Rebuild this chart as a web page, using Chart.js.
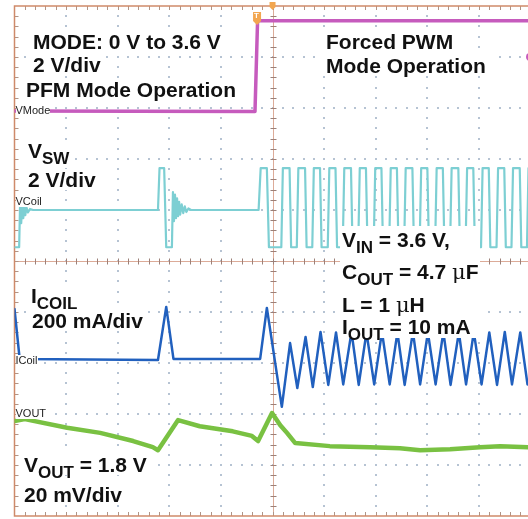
<!DOCTYPE html>
<html><head><meta charset="utf-8">
<script src="https://cdn.jsdelivr.net/npm/chart.js@4.4.0/dist/chart.umd.min.js"></script>
<style>
html,body{margin:0;padding:0;background:#fff;overflow:hidden}
#wrap{position:relative;width:528px;height:519px;overflow:hidden}
canvas{position:absolute;left:0;top:0}
.t{position:absolute;font:bold 21px 'Liberation Sans',Arial,sans-serif;line-height:21px;color:#111;white-space:nowrap;background:#fff;padding:0 5px}
.s{font-size:17px;vertical-align:-6px;line-height:0}
.mu{font-family:'DejaVu Serif','Liberation Serif',serif;font-weight:normal}
.b{position:absolute;font:bold 21px 'Liberation Sans',Arial,sans-serif;line-height:21px;color:#111;white-space:nowrap}
.c{position:absolute;font:11px 'Liberation Sans Narrow','Liberation Sans',Arial,sans-serif;font-stretch:condensed;line-height:11px;color:#222;background:#fff;white-space:nowrap}
#box{position:absolute;left:340px;top:226px;width:140px;height:112px;background:#fff}
#trig{position:absolute;left:254px;top:11px;font:bold 8px 'Liberation Sans',Arial,sans-serif;color:#fff;line-height:10px}
</style></head><body>
<div id="wrap">
<canvas id="c" width="528" height="519"></canvas>
<div class="t" style="left:28px;top:31px">MODE: 0 V to 3.6 V</div>
<div class="t" style="left:28px;top:54px">2 V/div</div>
<div class="t" style="left:21px;top:79px">PFM Mode Operation</div>
<div class="t" style="left:321px;top:31px">Forced PWM</div>
<div class="t" style="left:321px;top:55px">Mode Operation</div>
<div class="t" style="left:23px;top:140px">V<span class="s">SW</span></div>
<div class="t" style="left:23px;top:169px">2 V/div</div>
<div class="t" style="left:26px;top:285px">I<span class="s">COIL</span></div>
<div class="t" style="left:27px;top:310px">200 mA/div</div>
<div id="box"></div>
<div class="b" style="left:342px;top:229px">V<span class="s">IN</span> = 3.6 V,</div>
<div class="b" style="left:342px;top:261px">C<span class="s">OUT</span> = 4.7 <span class="mu">μ</span>F</div>
<div class="b" style="left:342px;top:294px">L = 1 <span class="mu">μ</span>H</div>
<div class="b" style="left:342px;top:316px">I<span class="s">OUT</span> = 10 mA</div>
<div class="t" style="left:19px;top:454px">V<span class="s">OUT</span> = 1.8 V</div>
<div class="t" style="left:19px;top:484px">20 mV/div</div>
<div class="c" style="left:15.5px;top:104.6px">VMode</div>
<div class="c" style="left:15.5px;top:195.6px">VCoil</div>
<div class="c" style="left:15.5px;top:354.6px">ICoil</div>
<div class="c" style="left:15.5px;top:407.6px">VOUT</div>
<div id="trig">T</div>
</div>
<script>
// Channel names
const channelNames = ['VMode', 'VCoil', 'ICoil', 'VOUT'];

// Time axis in screen divisions, values in screen divisions (0 = bottom, 10 = top)
const vmodeT = [0, 4.66, 4.71, 9.95];
const vmodeV = [7.94, 7.93, 9.71, 9.71];

const vswT = [0, 0.09, 0.11, 0.13, 0.15, 0.17, 0.19, 0.21, 0.23, 0.26, 0.30, 0.36,
  2.78, 2.81, 2.90, 2.94, 3.05, 3.07, 3.09, 3.11, 3.13, 3.15, 3.17, 3.19, 3.21, 3.24, 3.27, 3.30, 3.33, 3.37, 3.42,
  4.73, 4.77, 4.89, 4.93,
  5.17, 5.20, 5.33, 5.36, 5.47, 5.50, 5.63, 5.66, 5.77, 5.80, 5.92, 5.95,
  6.07, 6.10, 6.22, 6.25, 6.36, 6.39, 6.52, 6.55, 6.66, 6.69, 6.81, 6.84,
  6.96, 6.99, 7.11, 7.14, 7.26, 7.29, 7.41, 7.44, 7.55, 7.58, 7.71, 7.74,
  7.85, 7.88, 8.00, 8.03, 8.15, 8.18, 8.30, 8.33, 8.44, 8.47, 8.60, 8.63,
  8.74, 8.77, 8.89, 8.92, 9.04, 9.07, 9.19, 9.22, 9.34, 9.37, 9.49, 9.52,
  9.63, 9.66, 9.79, 9.82, 9.93, 9.96];
const vswV = [5.27, 5.27, 6.22, 5.74, 6.16, 5.84, 6.10, 5.90, 6.06, 5.95, 6.02, 6.00,
  6.00, 6.82, 6.82, 5.27, 5.27, 6.35, 5.78, 6.30, 5.84, 6.23, 5.88, 6.16, 5.91, 6.11, 5.94, 6.07, 5.96, 6.03, 6.00,
  6.00, 6.82, 6.82, 5.27,
  5.27, 6.82, 6.82, 5.27, 5.27, 6.82, 6.82, 5.27, 5.27, 6.82, 6.82, 5.27,
  5.27, 6.82, 6.82, 5.27, 5.27, 6.82, 6.82, 5.27, 5.27, 6.82, 6.82, 5.27,
  5.27, 6.82, 6.82, 5.27, 5.27, 6.82, 6.82, 5.27, 5.27, 6.82, 6.82, 5.27,
  5.27, 6.82, 6.82, 5.27, 5.27, 6.82, 6.82, 5.27, 5.27, 6.82, 6.82, 5.27,
  5.27, 6.82, 6.82, 5.27, 5.27, 6.82, 6.82, 5.27, 5.27, 6.82, 6.82, 5.27,
  5.27, 6.82, 6.82, 5.27, 5.27, 6.82];

const icoilT = [0, 0.10, 2.78, 2.94, 3.08, 4.76, 4.89,
  5.18, 5.34, 5.48, 5.64, 5.78, 5.93, 6.08, 6.23, 6.37, 6.53, 6.67, 6.82, 6.97, 7.12, 7.27, 7.42,
  7.56, 7.72, 7.86, 8.01, 8.16, 8.31, 8.45, 8.61, 8.75, 8.90, 9.05, 9.20, 9.35, 9.50, 9.64, 9.80, 9.94];
const icoilV = [4.06, 3.08, 3.06, 4.10, 3.08, 3.08, 4.08,
  2.14, 3.39, 2.51, 3.51, 2.53, 3.61, 2.57, 3.60, 2.58, 3.61, 2.57, 3.60, 2.58, 3.61, 2.58, 3.60,
  2.57, 3.61, 2.58, 3.60, 2.58, 3.61, 2.57, 3.60, 2.58, 3.61, 2.58, 3.60, 2.57, 3.61, 2.58, 3.60, 2.58];

const voutT = [0, 0.20, 1.02, 1.66, 2.30, 2.68, 2.78, 3.17, 3.59, 4.23, 4.60, 4.72, 4.99, 5.15, 5.28, 5.44,
  6.11, 6.89, 7.47, 7.86, 8.44, 9.02, 9.41, 9.95];
const voutV = [1.86, 1.90, 1.73, 1.63, 1.47, 1.35, 1.29, 1.88, 1.76, 1.66, 1.57, 1.47, 2.02, 1.78, 1.63, 1.43,
  1.37, 1.35, 1.33, 1.29, 1.31, 1.35, 1.37, 1.35];

function pts(t, v) { return t.map((tt, i) => ({ x: tt, y: v[i] })); }

const scopeGrid = {
  id: 'scopeGrid',
  beforeDatasetsDraw(chart) {
    const { ctx, chartArea: a, scales: { x, y } } = chart;
    ctx.save();
    // dotted graticule
    ctx.fillStyle = '#b6c3d3';
    for (let i = 1; i <= 9; i++) {
      if (i === 5) continue;
      const px = Math.round(x.getPixelForValue(i));
      for (let j = 1; j < 50; j++) {
        const py = Math.round(y.getPixelForValue(j * 0.2));
        ctx.fillRect(px - 1, py - 1, 2, 2);
      }
      const py = Math.round(y.getPixelForValue(i));
      for (let j = 1; j < 50; j++) {
        const qx = Math.round(x.getPixelForValue(j * 0.2));
        if (qx > a.right) break;
        ctx.fillRect(qx - 1, py - 1, 2, 2);
      }
    }
    // center cross
    const cx = Math.round(x.getPixelForValue(5)) + 0.5;
    const cy = Math.round(y.getPixelForValue(5)) + 0.5;
    ctx.strokeStyle = '#dcab98';
    ctx.lineWidth = 1;
    ctx.beginPath();
    ctx.moveTo(a.left, cy); ctx.lineTo(a.right, cy);
    ctx.moveTo(cx, a.top); ctx.lineTo(cx, a.bottom);
    ctx.stroke();
    ctx.strokeStyle = '#9c8078';
    ctx.beginPath();
    for (let j = 1; j < 50; j++) {
      const qx = Math.round(x.getPixelForValue(j * 0.2)) + 0.5;
      if (qx > a.right) break;
      ctx.moveTo(qx, cy - 3); ctx.lineTo(qx, cy + 3);
      const qy = Math.round(y.getPixelForValue(j * 0.2)) + 0.5;
      ctx.moveTo(cx - 3, qy); ctx.lineTo(cx + 3, qy);
    }
    ctx.stroke();
    // border ticks
    ctx.strokeStyle = '#b09486';
    ctx.beginPath();
    for (let j = 1; j < 50; j++) {
      const qx = Math.round(x.getPixelForValue(j * 0.2)) + 0.5;
      if (qx > a.right) break;
      ctx.moveTo(qx, a.top); ctx.lineTo(qx, a.top + 4);
      ctx.moveTo(qx, a.bottom); ctx.lineTo(qx, a.bottom - 4);
      const qy = Math.round(y.getPixelForValue(j * 0.2)) + 0.5;
      ctx.moveTo(a.left, qy); ctx.lineTo(a.left + 4, qy);
    }
    ctx.stroke();
    // border
    ctx.strokeStyle = '#cf8a6a';
    ctx.lineWidth = 1.5;
    ctx.beginPath();
    ctx.moveTo(a.right + 2, a.top); ctx.lineTo(a.left, a.top); ctx.lineTo(a.left, a.bottom); ctx.lineTo(a.right + 2, a.bottom);
    ctx.stroke();
    ctx.restore();
  },
  afterDatasetsDraw(chart) {
    const { ctx, chartArea: a, scales: { x, y } } = chart;
    ctx.save();
    // trigger marker
    const tx = x.getPixelForValue(4.70);
    ctx.fillStyle = '#f2a650';
    ctx.beginPath();
    ctx.moveTo(tx - 4, 12); ctx.lineTo(tx + 4, 12); ctx.lineTo(tx + 4, 21);
    ctx.lineTo(tx, 25); ctx.lineTo(tx - 4, 21); ctx.closePath();
    ctx.fill();
    // horizontal position marker
    const hx = x.getPixelForValue(5);
    ctx.beginPath();
    ctx.moveTo(hx - 3, 2); ctx.lineTo(hx + 3, 2); ctx.lineTo(hx + 3, 7); ctx.lineTo(hx, 10); ctx.lineTo(hx - 3, 7); ctx.closePath();
    ctx.fill();
    // channel reference marker at right edge
    ctx.fillStyle = '#c65bbd';
    ctx.beginPath();
    ctx.arc(a.right + 2, y.getPixelForValue(9), 4, 0, Math.PI * 2);
    ctx.fill();
    ctx.restore();
  }
};

new Chart(document.getElementById('c'), {
  type: 'line',
  data: {
    datasets: [
      { label: channelNames[0], data: pts(vmodeT, vmodeV), borderColor: '#c65bbd', borderWidth: 3.5 },
      { label: channelNames[1], data: pts(vswT, vswV), borderColor: '#7dcfd3', borderWidth: 2.2 },
      { label: channelNames[2], data: pts(icoilT, icoilV), borderColor: '#2160be', borderWidth: 2.5 },
      { label: channelNames[3], data: pts(voutT, voutV), borderColor: '#79c142', borderWidth: 4.5 }
    ]
  },
  options: {
    responsive: false,
    animation: false,
    events: [],
    layout: { padding: { left: 14.5, top: 6, right: 0, bottom: 3 } },
    elements: {
      point: { radius: 0 },
      line: { tension: 0, borderJoinStyle: 'round', borderCapStyle: 'round', fill: false }
    },
    plugins: { legend: { display: false }, tooltip: { enabled: false } },
    scales: {
      x: { type: 'linear', min: 0, max: 9.95, display: false },
      y: { type: 'linear', min: 0, max: 10, display: false }
    }
  },
  plugins: [scopeGrid]
});
</script>
</body></html>
